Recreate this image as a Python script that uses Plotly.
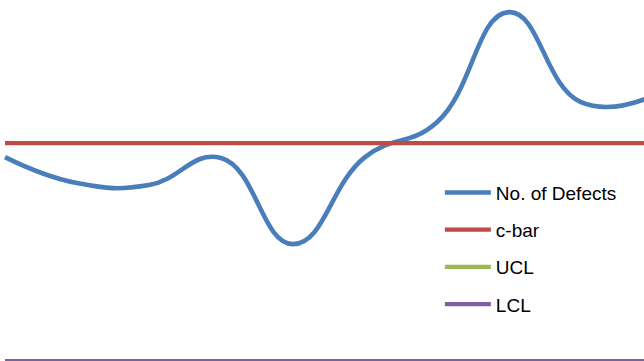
import plotly.graph_objects as go

# c-chart: defects counted per sample
samples = [1, 2, 3, 4, 5, 6, 7, 8, 9, 10]
defects = [9.39, 8.26, 8.17, 9.35, 5.60, 9.39, 10.91, 15.70, 11.78, 12.05]
c_bar = 10.0
ucl = 19.49
lcl = 0.51

series_names = ["No. of Defects", "c-bar", "UCL", "LCL"]
series_colors = ["#4A7EBB", "#BE4B48", "#98B954", "#7D60A0"]

fig = go.Figure()

fig.add_trace(go.Scatter(
    x=samples, y=defects, mode="lines", name=series_names[0],
    line=dict(color=series_colors[0], width=4.6, shape="spline", smoothing=1.3),
    legendgroup="g1",
))
for name, color, level, grp in zip(series_names[1:], series_colors[1:],
                                   [c_bar, ucl, lcl], ["g2", "g3", "g4"]):
    fig.add_trace(go.Scatter(
        x=samples, y=[level] * len(samples), mode="lines", name=name,
        line=dict(color=color, width=4.2), legendgroup=grp,
    ))

fig.update_layout(
    width=644, height=361,
    margin=dict(l=0, r=0, t=0, b=0),
    paper_bgcolor="white", plot_bgcolor="white",
    xaxis=dict(range=[0.9306, 9.875], visible=False),
    yaxis=dict(range=[0.51, 16.23], visible=False),
    showlegend=True,
    legend=dict(
        x=0.683, y=0.519, xanchor="left", yanchor="top",
        font=dict(family="Liberation Sans", size=19, color="#000000"),
        bgcolor="rgba(0,0,0,0)", borderwidth=0,
        traceorder="grouped", tracegroupgap=9.5, itemwidth=46,
    ),
)

fig.write_html("out.html")
